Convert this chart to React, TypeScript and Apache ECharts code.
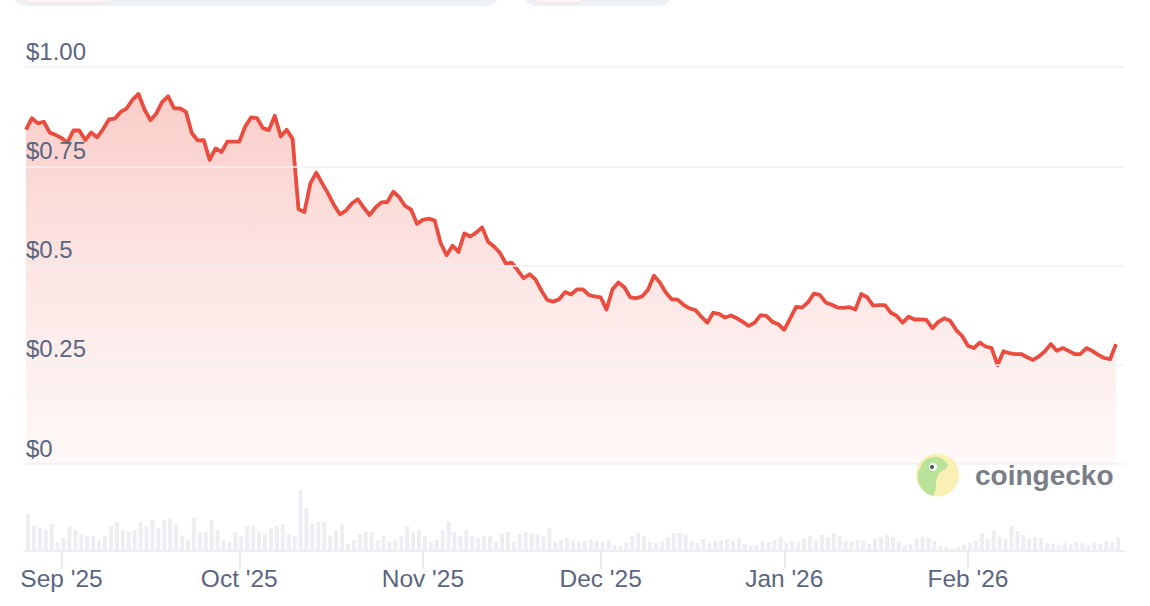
import React, { useEffect, useRef } from "react";
import * as echarts from "echarts";

// ---- data ----
const startDate = "2025-08-26"; // first daily point
const prices: number[] = [
  0.842, 0.871, 0.858, 0.862, 0.835, 0.829, 0.821, 0.81, 0.84, 0.84,
  0.816, 0.835, 0.823, 0.843, 0.868, 0.87, 0.887, 0.896, 0.918, 0.932,
  0.893, 0.866, 0.883, 0.912, 0.926, 0.896, 0.896, 0.887, 0.833, 0.815,
  0.816, 0.766, 0.795, 0.786, 0.812, 0.812, 0.812, 0.85, 0.873, 0.871,
  0.846, 0.841, 0.877, 0.825, 0.842, 0.819, 0.642, 0.635, 0.707, 0.734,
  0.707, 0.681, 0.652, 0.629, 0.638, 0.656, 0.667, 0.646, 0.627, 0.646,
  0.659, 0.66, 0.686, 0.672, 0.65, 0.641, 0.605, 0.615, 0.618, 0.613,
  0.556, 0.526, 0.55, 0.534, 0.581, 0.573, 0.583, 0.596, 0.56, 0.548,
  0.532, 0.505, 0.507, 0.488, 0.468, 0.478, 0.465, 0.437, 0.413, 0.409,
  0.415, 0.433, 0.427, 0.44, 0.44, 0.426, 0.422, 0.42, 0.389, 0.44,
  0.457, 0.445, 0.42, 0.418, 0.422, 0.439, 0.474, 0.457, 0.432, 0.415,
  0.414, 0.401, 0.392, 0.388, 0.371, 0.356, 0.381, 0.378, 0.369, 0.374,
  0.367, 0.358, 0.348, 0.356, 0.375, 0.373, 0.358, 0.352, 0.338, 0.367,
  0.396, 0.394, 0.407, 0.429, 0.426, 0.407, 0.401, 0.394, 0.393, 0.395,
  0.389, 0.428, 0.42, 0.399, 0.4, 0.4, 0.381, 0.373, 0.356, 0.371,
  0.364, 0.364, 0.363, 0.342, 0.358, 0.367, 0.361, 0.338, 0.323, 0.298,
  0.292, 0.306, 0.296, 0.292, 0.249, 0.284, 0.279, 0.277, 0.277, 0.269,
  0.262, 0.271, 0.284, 0.302, 0.285, 0.292, 0.285, 0.277, 0.277, 0.292,
  0.285, 0.275, 0.267, 0.264, 0.302,
];
const volumes: number[] = [
  37, 25, 23, 21, 27, 9, 13, 25, 21, 17, 15, 15, 11, 15, 25, 29, 21, 19, 21, 29,
  25, 31, 23, 31, 33, 27, 15, 11, 33, 19, 19, 31, 21, 11, 9, 19, 15, 25, 25, 19,
  17, 23, 25, 27, 17, 15, 61, 43, 27, 29, 29, 15, 21, 27, 7, 11, 17, 19, 19, 11,
  15, 9, 11, 15, 25, 19, 21, 15, 9, 11, 21, 29, 19, 15, 21, 15, 13, 15, 15, 9,
  17, 19, 9, 17, 19, 17, 17, 15, 23, 9, 11, 13, 11, 9,
  10, 11, 10, 9, 11, 6, 5, 8, 15, 18,
  15, 9, 8, 10, 14, 18, 18, 16, 10, 8,
  12, 8, 10, 11, 12, 10, 13, 7, 5, 6,
  10, 9, 11, 14, 8, 10, 9, 12, 15, 11,
  16, 14, 18, 15, 10, 9, 11, 10, 7, 12,
  14, 16, 14, 9, 6, 7, 12, 14, 13, 10,
  5, 4, 3, 4, 6, 8, 10, 18, 12, 20,
  14, 12, 25, 20, 16, 12, 14, 13, 8, 7,
  6, 8, 7, 9, 8, 6, 9, 7, 10, 9, 14,
];
const monthStarts: string[] = ["2025-09-01", "2025-10-01", "2025-11-01", "2025-12-01", "2026-01-01", "2026-02-01"];
const monthLabels: string[] = ["Sep '25", "Oct '25", "Nov '25", "Dec '25", "Jan '26", "Feb '26"];
const yTickLabels: string[] = ["$0", "$0.25", "$0.5", "$0.75", "$1.00"];

const DAY = 86400000;
function parseDay(s: string): number {
  const [y, m, d] = s.split("-").map(Number);
  return Date.UTC(y, m - 1, d);
}
const T0 = parseDay(startDate);
// day offsets (x positions in days from the first point)
const dayIndex: number[] = prices.map((_, i) => i);
const monthTicks: number[] = monthStarts.map((s) => Math.round((parseDay(s) - T0) / DAY));

const geckoPath =
  "M4 15 C6 7 13 3 20 3.5 C25 4 30 7 31.5 10.5 C32.5 13.5 29 16 25 18 C21.5 21 19.5 26 20 32 C20.3 36 18.5 40 16.5 42.5 C10 40.5 4.5 35 2.2 28 C1 23 1.8 18.5 4 15 Z";
echarts.graphic.registerShape("gecko", echarts.graphic.extendPath(geckoPath, {}) as any);

const FONT = "'Liberation Sans', Arial, Helvetica, sans-serif";
const GREY_TEXT = "#5a6680";

export default function App() {
  const ref = useRef<HTMLDivElement>(null);
  useEffect(() => {
    document.body.style.margin = "0";
    const chart = echarts.init(ref.current!, null, { renderer: "svg" });
    chart.setOption({
      animation: false,
      backgroundColor: "#ffffff",
      textStyle: { fontFamily: FONT },
      grid: [
        { left: 26, right: 26, top: 67, bottom: 142 },
        { left: 24, right: 26, top: 470, bottom: 55 },
        { left: 26, right: 26, top: 470, bottom: 55 },
      ],
      xAxis: [
        {
          type: "value",
          gridIndex: 0,
          min: 0,
          max: 185.35,
          show: false,
        },
        {
          type: "value",
          gridIndex: 1,
          min: -0.675,
          max: 185.0,
          axisLine: { show: true, lineStyle: { color: "#eceef2", width: 2 } },
          axisTick: { show: false },
          axisLabel: { show: false },
          splitLine: { show: false },
        },
        {
          type: "value",
          gridIndex: 2,
          min: 0,
          max: 185.35,
          axisLine: { show: false },
          axisTick: {
            show: true,
            customValues: monthTicks,
            length: 18,
            lineStyle: { color: "#e2e5ea", width: 1.5 },
          },
          axisLabel: {
            customValues: monthTicks,
            color: GREY_TEXT,
            fontSize: 24.5,
            fontFamily: FONT,
            margin: 15,
            formatter: (val: number) => {
              const idx = monthTicks.indexOf(Math.round(val));
              return idx >= 0 ? monthLabels[idx] : "";
            },
          },
          splitLine: { show: false },
        },
      ],
      yAxis: [
        {
          type: "value",
          gridIndex: 0,
          min: 0,
          max: 1,
          interval: 0.25,
          axisLine: { show: false },
          axisTick: { show: false },
          splitLine: { show: true, lineStyle: { color: "#eff0f3", width: 1.5 } },
          axisLabel: {
            inside: true,
            margin: 0,
            verticalAlign: "bottom",
            padding: [0, 0, 4, 0],
            color: GREY_TEXT,
            fontSize: 24,
            fontFamily: FONT,
            formatter: (v: number) => yTickLabels[Math.round(v * 4)] ?? "",
          },
          z: 3,
        },
        { type: "value", gridIndex: 1, min: 0, max: 81, show: false },
        { type: "value", gridIndex: 2, min: 0, max: 1, show: false },
      ],
      series: [
        {
          type: "bar",
          xAxisIndex: 1,
          yAxisIndex: 1,
          barWidth: 4,
          itemStyle: { color: "#eceef2" },
          data: dayIndex.map((d, i) => [d, volumes[i]]),
        },
        {
          type: "line",
          xAxisIndex: 0,
          yAxisIndex: 0,
          symbol: "none",
          lineStyle: { color: "#ea4c3f", width: 3.8, join: "round" },
          areaStyle: {
            color: new echarts.graphic.LinearGradient(0, 0, 0, 1, [
              { offset: 0, color: "rgba(236,84,70,0.42)" },
              { offset: 0.5, color: "rgba(236,84,70,0.2)" },
              { offset: 1, color: "rgba(236,84,70,0.05)" },
            ]),
          },
          data: dayIndex.map((d, i) => [d, prices[i]]),
          z: 2,
        },
      ],
      graphic: [
        { type: "rect", shape: { x: 12, y: -30, width: 488, height: 36, r: 14 }, style: { fill: "#eff2f5" } },
        { type: "rect", shape: { x: 20, y: -30, width: 93, height: 33, r: 12 }, style: { fill: "#fdf6f6", stroke: "#f3dede", lineWidth: 1 } },
        { type: "rect", shape: { x: 523, y: -30, width: 150, height: 36, r: 14 }, style: { fill: "#eff2f5" } },
        { type: "rect", shape: { x: 530, y: -30, width: 58, height: 33, r: 12 }, style: { fill: "#fdf6f6", stroke: "#f3dede", lineWidth: 1 } },
        { type: "circle", shape: { cx: 937.5, cy: 475, r: 21.5 }, style: { fill: "#fbf0b3" }, z: 10 },
        { type: "gecko", x: 916, y: 453.5, style: { fill: "#b9e29b" }, z: 11 },
        { type: "circle", shape: { cx: 933, cy: 467, r: 4 }, style: { fill: "#ffffff" }, z: 12 },
        { type: "circle", shape: { cx: 932, cy: 467, r: 2 }, style: { fill: "#4a5060" }, z: 13 },
        {
          type: "text",
          x: 975,
          y: 475,
          style: {
            text: "coingecko",
            fill: "#7a7e86",
            font: "bold 28px " + FONT,
            verticalAlign: "middle",
          },
          z: 10,
        },
      ],
    });
    return () => chart.dispose();
  }, []);
  return <div ref={ref} style={{ position: "fixed", left: 0, top: 0, width: 1150, height: 606 }} />;
}
